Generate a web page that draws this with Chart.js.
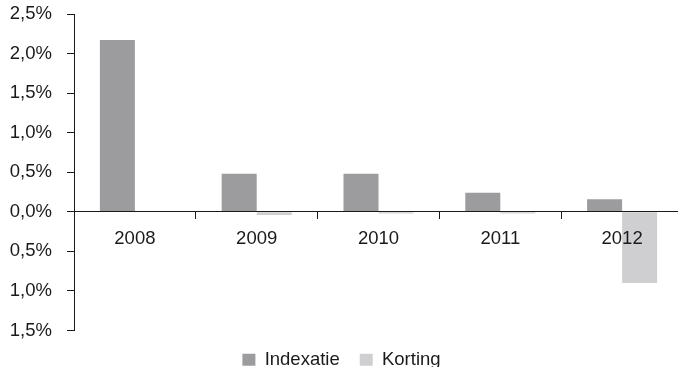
<!DOCTYPE html>
<html>
<head>
<meta charset="utf-8">
<script src="https://cdn.jsdelivr.net/npm/chart.js@4/dist/chart.umd.min.js"></script>
<style>
  html, body { margin: 0; padding: 0; background: #fff; overflow: hidden; }
  #wrap { width: 684px; height: 367px; }
</style>
</head>
<body>
<div id="wrap"><canvas id="c" width="684" height="367"></canvas></div>
<script>
// Jaren en percentages (in %)
const jaren = ['2008', '2009', '2010', '2011', '2012'];
const indexatie = [2.17, 0.48, 0.48, 0.24, 0.16];
const korting = [0, -0.04, -0.02, -0.02, -0.90];
const yTicks = [-1.5, -1.0, -0.5, 0, 0.5, 1.0, 1.5, 2.0, 2.5];

const FONT = { family: 'Liberation Sans, Arial, sans-serif', size: 18.5 };
const INK = '#1a1a1a';

function pct(v) {
  return Math.abs(v).toFixed(1).replace('.', ',') + '%';
}

new Chart(document.getElementById('c'), {
  type: 'bar',
  data: {
    labels: jaren,
    datasets: [
      { label: 'Indexatie', data: indexatie, backgroundColor: '#9c9c9e',
        categoryPercentage: 0.575, barPercentage: 1.0 },
      { label: 'Korting', data: korting, backgroundColor: '#cfcfd1',
        categoryPercentage: 0.575, barPercentage: 1.0 }
    ]
  },
  options: {
    responsive: false,
    animation: false,
    devicePixelRatio: 1,
    layout: { padding: { top: 14, right: 1, left: 0, bottom: -12 } },
    plugins: {
      tooltip: { enabled: false },
      legend: {
        position: 'bottom',
        labels: {
          font: FONT, color: INK,
          boxWidth: 13, boxHeight: 12, padding: 20
        }
      }
    },
    scales: {
      x: {
        position: { y: 0 },
        grid: { offset: true, drawOnChartArea: false, tickLength: 7, color: INK, lineWidth: 1 },
        border: { color: INK, width: 1, z: 1 },
        ticks: { font: FONT, color: INK, padding: 9, z: 1 }
      },
      y: {
        min: -1.5, max: 2.5,
        afterFit(scale) {
          scale.width = 74;
          scale.paddingTop = 0;
          scale.paddingBottom = 0;
        },
        afterBuildTicks(scale) { scale.ticks = yTicks.map(v => ({ value: v })); },
        grid: { drawOnChartArea: false, tickLength: 7, color: INK, lineWidth: 1 },
        border: { color: INK, width: 1 },
        ticks: { font: FONT, color: INK, padding: 15, callback: v => pct(v) }
      }
    }
  }
});
</script>
</body>
</html>
